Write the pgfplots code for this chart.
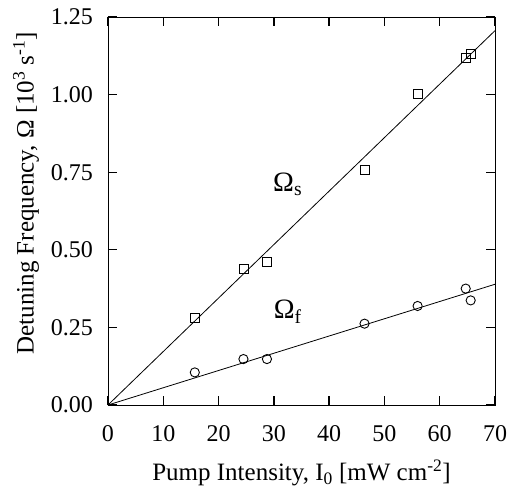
\documentclass[border=0pt]{standalone}
\usepackage{fontspec}
\setmainfont{Liberation Serif}
\usepackage{pgfplots}
\pgfplotsset{compat=1.18}
\begin{document}
\begin{tikzpicture}
\begin{axis}[
  scale only axis, width=387pt, height=388pt,
  at={(0pt,0pt)}, anchor=south west,
  xmin=0, xmax=70, ymin=0, ymax=1.25,
  xtick={0,10,20,30,40,50,60,70}, ytick={0,0.25,0.5,0.75,1,1.25},
  tick align=inside,
  major tick length=9pt,
  every tick/.style={black, line width=1.3pt},
  /pgf/number format/assume math mode=true,
  yticklabel style={/pgf/number format/fixed, /pgf/number format/fixed zerofill, /pgf/number format/precision=2},
  ticklabel style={font=\fontsize{24}{24}\selectfont, inner sep=0pt},
  xticklabel style={anchor=north, yshift=-20pt},
  yticklabel style={anchor=east, xshift=-15pt},
  label style={font=\fontsize{25}{25}\selectfont},
  xlabel={Pump Intensity, I\textsubscript{0} [mW cm\textsuperscript{-2}]},
  ylabel={Detuning Frequency, Ω [10\textsuperscript{3} s\textsuperscript{-1}]},
  xlabel style={anchor=base, at={(axis description cs:0.5,-0.194)}},
  ylabel style={anchor=center, at={(axis description cs:-0.212,0.546)}},
]
\addplot[black, line width=0.8pt, no marks] coordinates {(0,0) (70,1.206)};
\addplot[black, line width=0.8pt, no marks] coordinates {(0,0) (70,0.389)};
\addplot[only marks, mark=square, mark size=4.5pt, mark options={line width=0.9pt, black}] coordinates {
(15.7,0.279) (24.5,0.437) (28.75,0.462) (46.4,0.757) (56.0,1.003) (64.7,1.117) (65.6,1.130)};
\addplot[only marks, mark=o, mark size=4.6pt, mark options={line width=0.9pt, black}] coordinates {
(15.7,0.105) (24.5,0.148) (28.75,0.148) (46.4,0.262) (56.0,0.319) (64.7,0.375) (65.6,0.337)};
\node[font=\fontsize{28}{28}\selectfont] at (axis cs:32.5,0.71) {Ω\textsubscript{s}};
\node[font=\fontsize{28}{28}\selectfont] at (axis cs:32.5,0.30) {Ω\textsubscript{f}};
\end{axis}
\path[use as bounding box] (-108pt,-87pt) rectangle (408pt,405pt);
\end{tikzpicture}
\end{document}
